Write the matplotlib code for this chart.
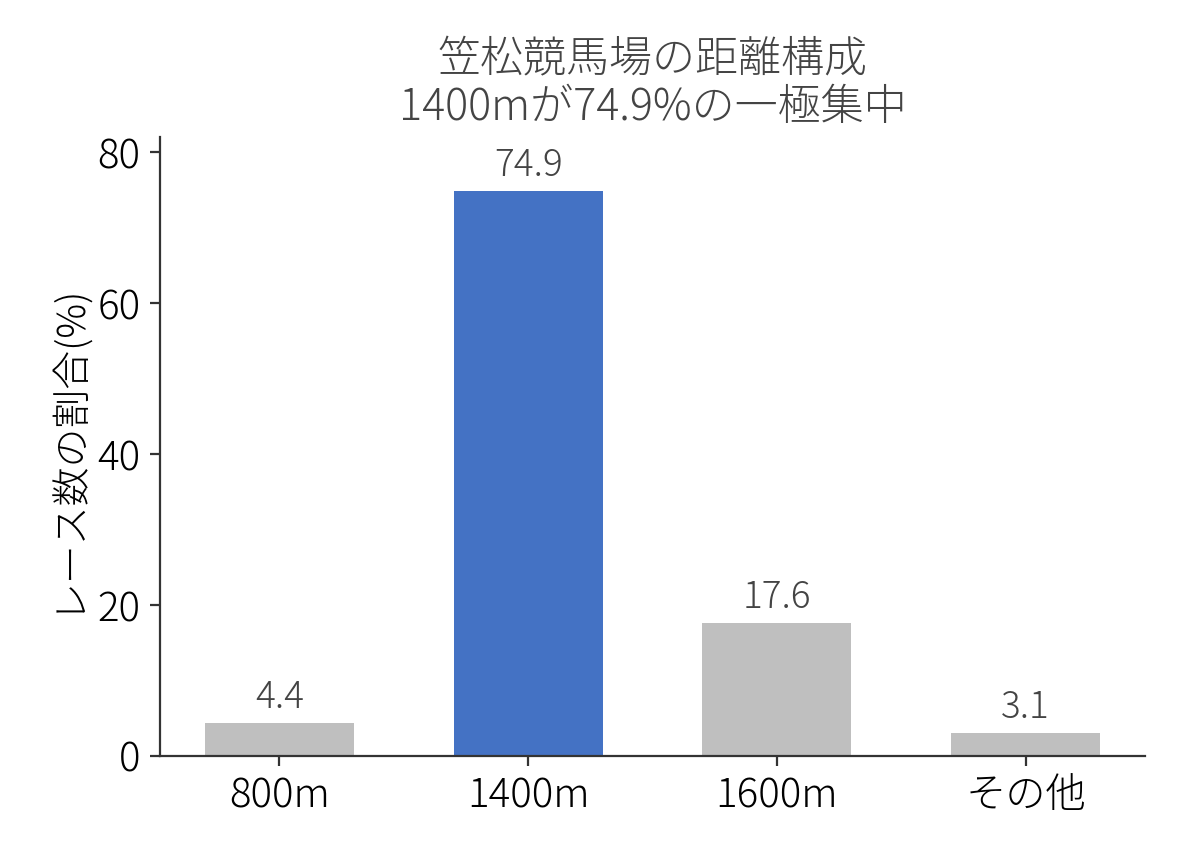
import matplotlib
matplotlib.use("Agg")
import matplotlib.pyplot as plt

categories = ["800m", "1400m", "1600m", "その他"]
values = [4.4, 74.9, 17.6, 3.1]
colors = ["#bfbfbf", "#4472c4", "#bfbfbf", "#bfbfbf"]
title = "笠松競馬場の距離構成\n1400mが74.9%の一極集中"
ylabel = "レース数の割合(%)"

plt.rcParams['font.family'] = ['Noto Sans CJK JP', 'DejaVu Sans']
plt.rcParams['font.weight'] = 'light'
plt.rcParams['axes.titleweight'] = 'light'
plt.rcParams['axes.labelweight'] = 'light'

fig = plt.figure(figsize=(5.94, 4.29), dpi=200)
ax = fig.add_axes([0.1347, 0.1189, 0.8291, 0.7214])
bars = ax.bar(categories, values, width=0.6, color=colors)
for b, v in zip(bars, values):
    ax.text(b.get_x() + b.get_width() / 2, v + 0.8, f"{v:.1f}", ha="center", va="bottom",
            fontsize=13.3, color="#444444")
ax.set_ylim(0, 82)
ax.set_title(title, fontsize=15.5, color="#444444", pad=6, linespacing=1.1)
ax.set_ylabel(ylabel, fontsize=14)
ax.tick_params(labelsize=14.5, color="#333333")
for s in ('left', 'bottom'):
    ax.spines[s].set_color("#333333")
ax.spines['top'].set_visible(False)
ax.spines['right'].set_visible(False)
fig.savefig("out.png", dpi=200)
